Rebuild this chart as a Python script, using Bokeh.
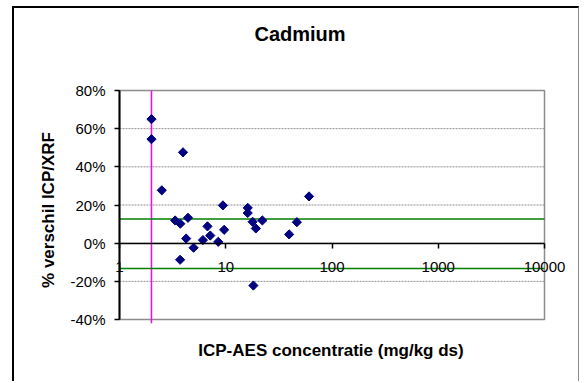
import math

from bokeh.embed import file_html
from bokeh.models import (FixedTicker, Label, LinearAxis, LogAxis,
                          NumeralTickFormatter, Range1d)
from bokeh.plotting import figure
from bokeh.resources import INLINE

# --- data -------------------------------------------------------------------
chart_title = "Cadmium"
x_title = "ICP-AES concentratie (mg/kg ds)"
y_title = "% verschil ICP/XRF"

# ICP-AES concentration (mg/kg ds) and relative difference ICP vs XRF
conc = [2.0, 2.0, 2.5, 3.96, 3.34, 3.74, 4.41, 4.24, 3.72, 4.98,
        6.1, 6.73, 7.15, 8.5, 9.4, 9.66, 16.1, 16.1, 17.9, 19.2,
        22.1, 18.2, 39.5, 46.7, 60.8]
diff = [0.65, 0.545, 0.277, 0.476, 0.119, 0.102, 0.133, 0.024, -0.087, -0.024,
        0.016, 0.088, 0.04, 0.007, 0.198, 0.07, 0.185, 0.158, 0.112, 0.077,
        0.119, -0.222, 0.046, 0.11, 0.245]

detection_limit = 2.0
band_upper = 0.127
band_lower = -0.133

x_ticks = [1, 10, 100, 1000, 10000]
x_tick_labels = ["1", "10", "100", "1000", "10000"]
y_ticks = [-0.4, -0.2, 0.0, 0.2, 0.4, 0.6, 0.8]

FONT = "Liberation Sans"

# --- canvas geometry (pixels inside the chart box) ----------------------------
W, H = 567, 375
AREA_L, AREA_R, AREA_T, AREA_B = 105, 530, 82, 311

x_min, x_max = x_ticks[0], x_ticks[-1]
y_min, y_max = y_ticks[0], y_ticks[-1]
decade_px = (AREA_R - AREA_L) / (math.log10(x_max) - math.log10(x_min))
unit_px = (AREA_B - AREA_T) / (y_max - y_min)
x_lo = 10 ** (math.log10(x_min) - AREA_L / decade_px)
x_hi = 10 ** (math.log10(x_max) + (W - AREA_R) / decade_px)
y_hi = y_max + AREA_T / unit_px
y_lo = y_min - (H - AREA_B) / unit_px

p = figure(
    width=W, height=H,
    x_axis_type="log", x_axis_location=None, y_axis_location=None,
    x_range=Range1d(x_lo, x_hi), y_range=Range1d(y_lo, y_hi),
    output_backend="svg", toolbar_location=None,
    min_border=0, min_border_left=0, min_border_right=0,
    min_border_top=0, min_border_bottom=0,
    background_fill_color="white", border_fill_color="white",
)
# chart box border
p.styles = {
    "margin-left": "12px", "margin-top": "6px",
    "border-left": "2px solid #000", "border-top": "2px solid #000",
    "border-right": "1px solid #8a8a8a",
}
p.outline_line_color = None
p.grid.visible = False

# plot area: gridlines and grey border
grid_y = y_ticks[1:-1]
p.segment(x0=[x_min] * len(grid_y), y0=grid_y, x1=[x_max] * len(grid_y), y1=grid_y,
          line_color="#8c8c8c", line_width=1, line_dash="2 1")
p.quad(left=[x_min], right=[x_max], bottom=[y_min], top=[y_max],
       fill_color=None, line_color="#8c8c8c", line_width=1.5)

# reference lines
p.segment(x0=[detection_limit], y0=[y_min - 0.02], x1=[detection_limit], y1=[y_max],
          line_color="#FF00FF", line_width=1.5)
p.segment(x0=[x_min, x_min], y0=[band_upper, band_lower],
          x1=[x_max, x_max], y1=[band_upper, band_lower],
          line_color="#008000", line_width=1.5)

# y axis at x = 1
yax = LinearAxis(fixed_location=x_min, bounds=(y_min, y_max),
                 ticker=FixedTicker(ticks=y_ticks),
                 formatter=NumeralTickFormatter(format="0%"))
yax.axis_line_color = "black"
yax.axis_line_width = 2
yax.major_tick_in = 0
yax.major_tick_out = 5
yax.major_tick_line_color = "black"
yax.major_tick_line_width = 1.5
yax.minor_tick_line_color = None
yax.major_label_standoff = 9
yax.major_label_text_font = FONT
yax.major_label_text_font_size = "15px"
yax.major_label_text_color = "black"
p.add_layout(yax, "left")

# x axis crossing at 0 %
xax = LogAxis(fixed_location=0, bounds=(x_min, x_max),
              ticker=FixedTicker(ticks=x_ticks, minor_ticks=[]))
xax.major_label_overrides = dict(zip(x_ticks, x_tick_labels))
xax.axis_line_color = "black"
xax.axis_line_width = 1.5
xax.major_tick_in = 0
xax.major_tick_out = 5
xax.major_tick_line_color = "black"
xax.major_tick_line_width = 1.5
xax.minor_tick_line_color = None
xax.major_label_standoff = 14
xax.major_label_text_font = FONT
xax.major_label_text_font_size = "15px"
xax.major_label_text_color = "black"
p.add_layout(xax, "below")

# data points
p.scatter(conc, diff, marker="square", angle=math.pi / 4, size=6.5,
          fill_color="#000080", line_color="#000080")

# titles
x_mid = math.sqrt(x_min * x_max)
y_mid = (y_min + y_max) / 2
p.add_layout(Label(x=x_mid, y=y_max, x_offset=-32, y_offset=57,
                   text=chart_title, text_align="center", text_baseline="middle",
                   text_font=FONT, text_font_size="20px",
                   text_font_style="bold", text_color="black"))
p.add_layout(Label(x=x_mid, y=y_min, x_offset=-1, y_offset=-31,
                   text=x_title, text_align="center", text_baseline="middle",
                   text_font=FONT, text_font_size="17px",
                   text_font_style="bold", text_color="black"))
p.add_layout(Label(x=x_min, y=y_mid, x_offset=-71, y_offset=-5,
                   text=y_title, angle=math.pi / 2,
                   text_align="center", text_baseline="middle",
                   text_font=FONT, text_font_size="17px",
                   text_font_style="bold", text_color="black"))

open("out.html", "w").write(file_html(p, INLINE))
